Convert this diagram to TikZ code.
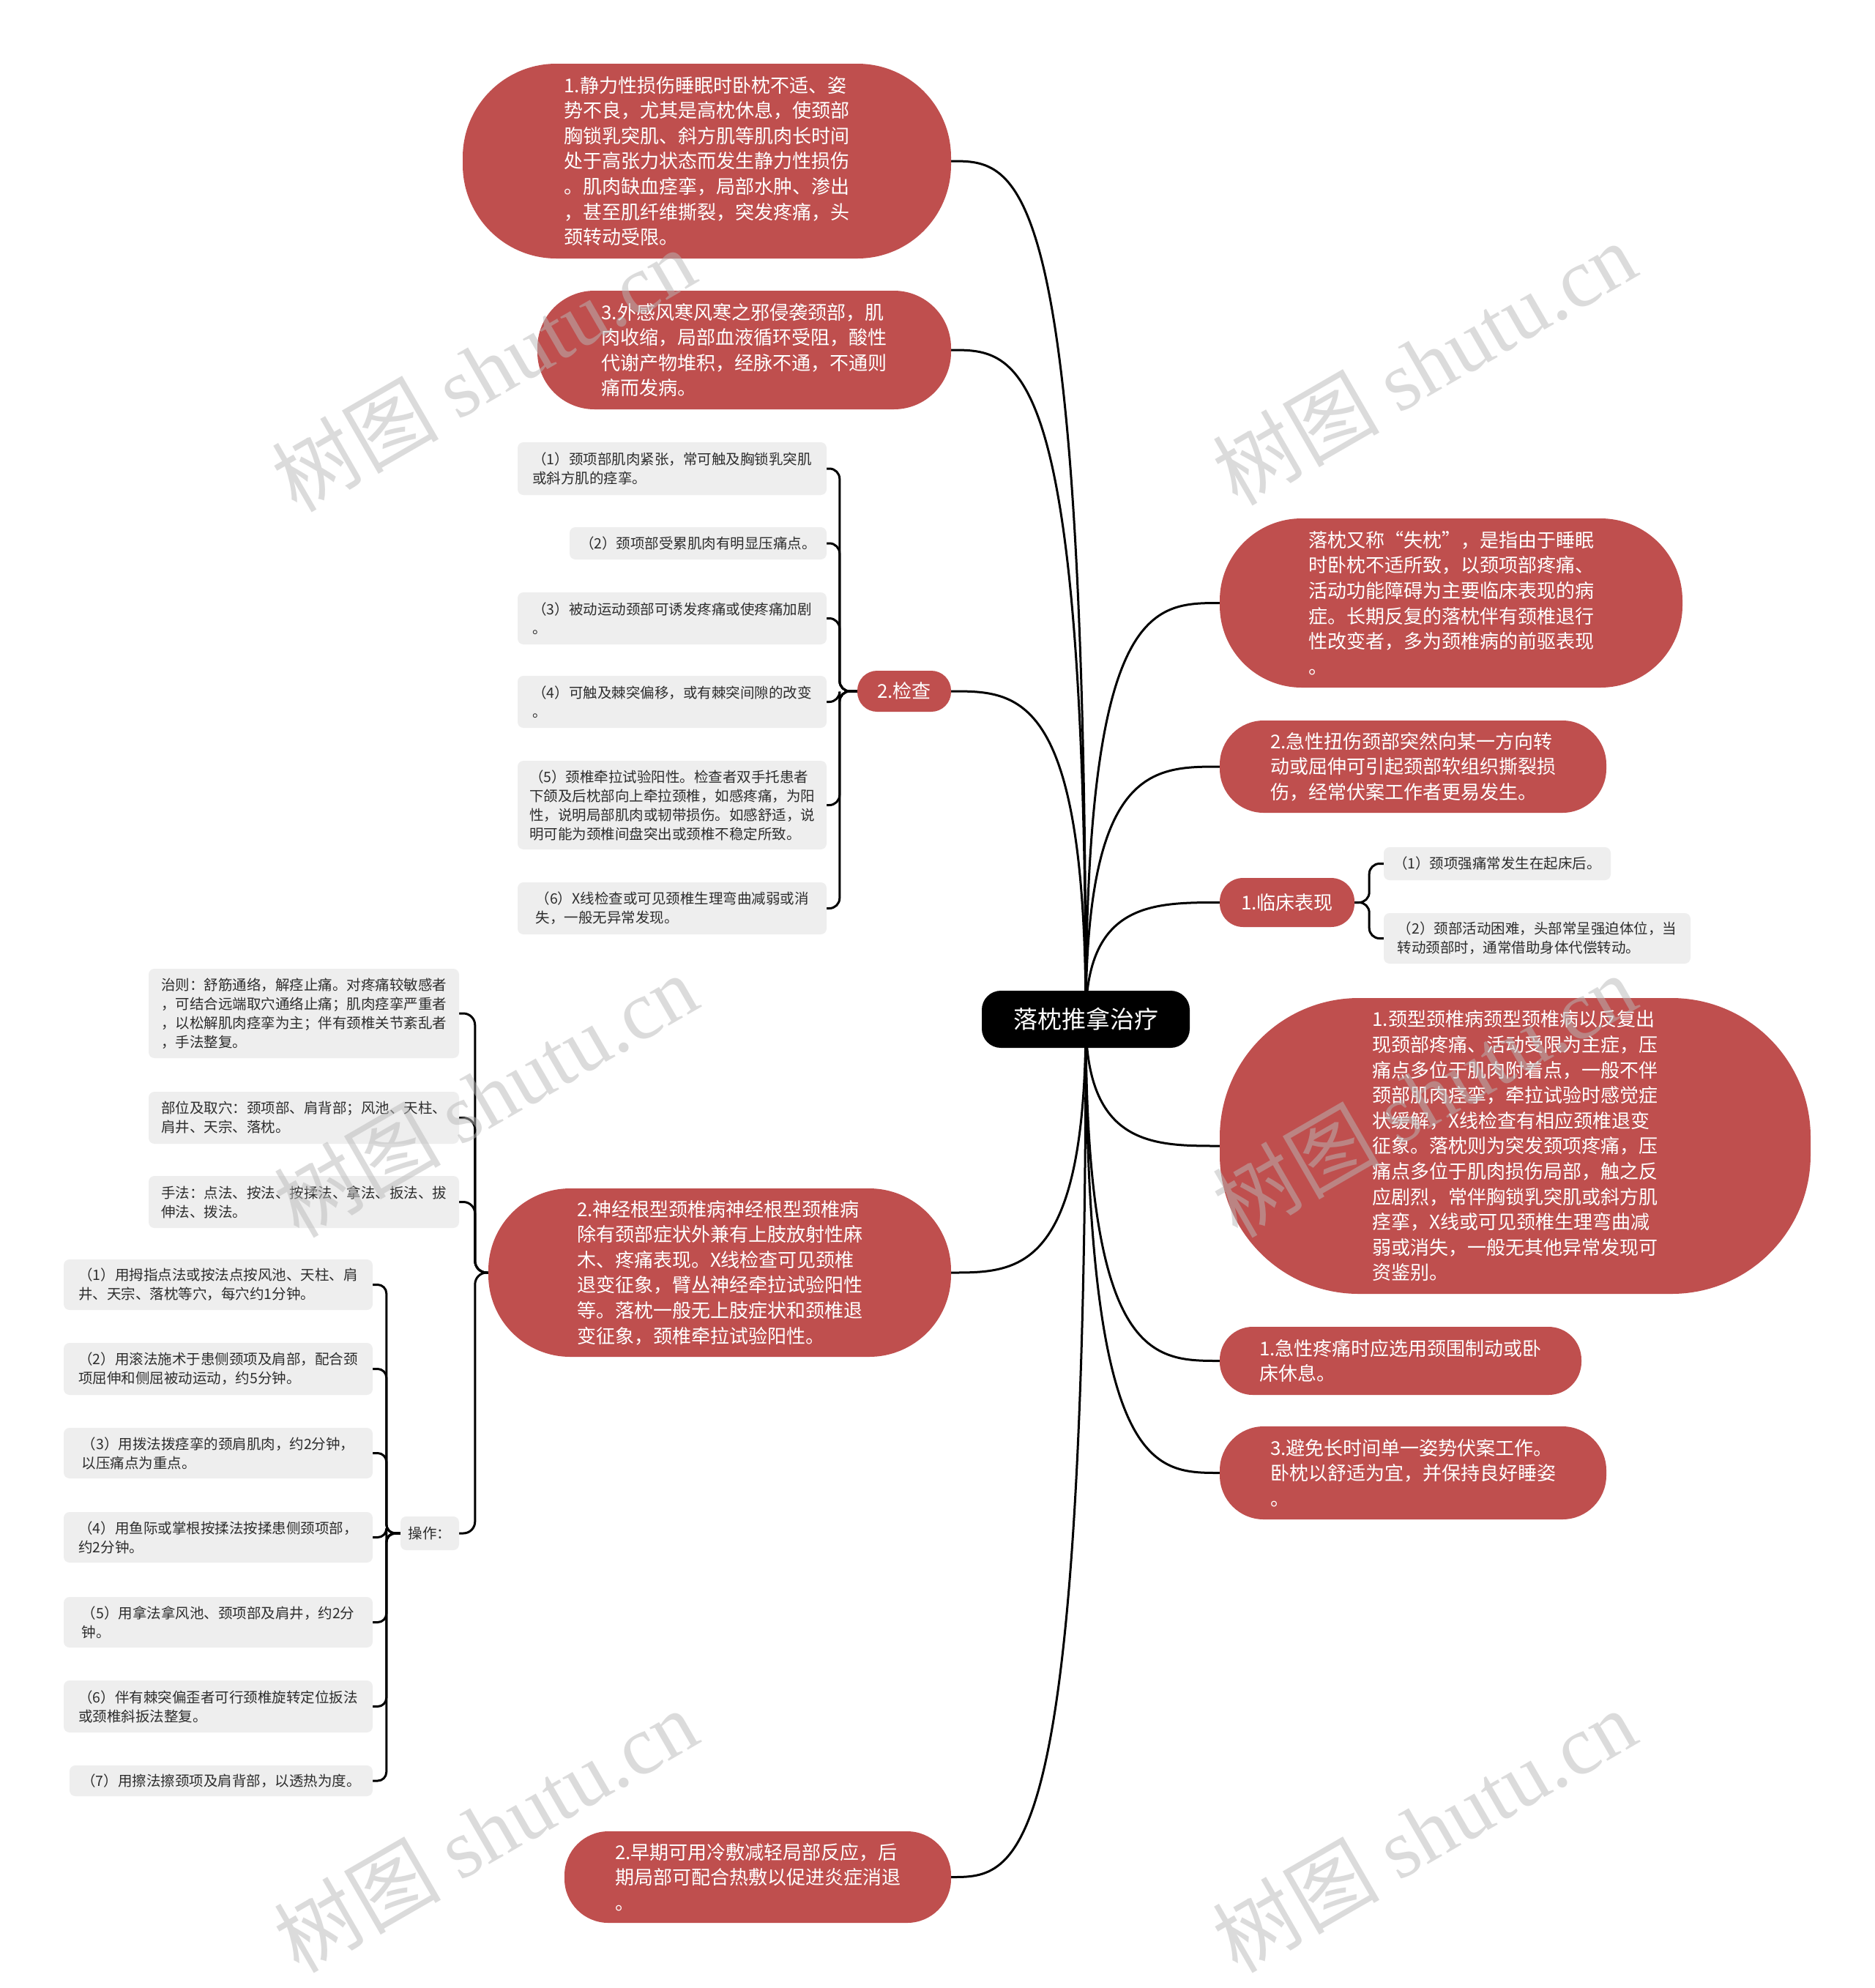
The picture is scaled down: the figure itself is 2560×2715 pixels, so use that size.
\documentclass[tikz,border=0pt]{standalone}
\usepackage{fontspec}
\setmainfont{Noto Sans CJK SC}
\newfontfamily\wmlatin{Liberation Serif}
\usetikzlibrary{calc,backgrounds}
\definecolor{nodered}{RGB}{191,79,78}
\definecolor{graybox}{RGB}{238,238,238}
\definecolor{graytext}{RGB}{45,45,45}
\definecolor{wmgray}{RGB}{185,185,185}
\tikzset{
  rednode/.style={fill=nodered, text=white, align=left, inner sep=0pt, font=\fontsize{26}{34.6}\selectfont},
  graynode/.style={fill=graybox, text=graytext, align=left, rounded corners=8pt, inner sep=0pt, font=\fontsize{19.5}{26}\selectfont},
  rootnode/.style={fill=black, text=white, rounded corners=26pt, inner sep=0pt, font=\fontsize{33}{40}\selectfont},
  conn/.style={draw=black, line width=3pt},
  brace/.style={draw=black, line width=3pt},
  wm/.style={text=wmgray, text opacity=0.5, rotate=30, inner sep=0pt, font=\fontsize{114}{120}\selectfont}
}
\newcommand\mconn[2]{\draw[conn] (#1) .. controls (#1 |- #2) and ($(#1 |- #2)!0.5!(#2)$) .. (#2);}
\newcommand\bconn[4]{\draw[brace, rounded corners=#4] (#1) -- ++(#3,0) |- (#2);}
\begin{document}
\begin{tikzpicture}[x=1pt,y=-1pt]
\useasboundingbox (0,0) rectangle (2560,2715);

% root
\node[rootnode, minimum width=284pt, minimum height=78pt] (root) at (1483,1392) {落枕推拿治疗};

% left red nodes
\node[rednode, minimum width=667pt, minimum height=266pt, rounded corners=128pt] (L1) at (965.5,220) {1.静力性损伤睡眠时卧枕不适、姿\\势不良，尤其是高枕休息，使颈部\\胸锁乳突肌、斜方肌等肌肉长时间\\处于高张力状态而发生静力性损伤\\。肌肉缺血痉挛，局部水肿、渗出\\，甚至肌纤维撕裂，突发疼痛，头\\颈转动受限。};
\node[rednode, minimum width=565pt, minimum height=162pt, rounded corners=78pt] (L2) at (1016.5,478) {3.外感风寒风寒之邪侵袭颈部，肌\\肉收缩，局部血液循环受阻，酸性\\代谢产物堆积，经脉不通，不通则\\痛而发病。};
\node[rednode, minimum width=128pt, minimum height=56pt, rounded corners=27pt] (L3) at (1235,944) {2.检查};
\node[rednode, minimum width=632pt, minimum height=230pt, rounded corners=112pt] (L4) at (983,1738) {2.神经根型颈椎病神经根型颈椎病\\除有颈部症状外兼有上肢放射性麻\\木、疼痛表现。X线检查可见颈椎\\退变征象，臂丛神经牵拉试验阳性\\等。落枕一般无上肢症状和颈椎退\\变征象，颈椎牵拉试验阳性。};
\node[rednode, minimum width=528pt, minimum height=125pt, rounded corners=60pt] (L5) at (1035,2563.5) {2.早期可用冷敷减轻局部反应，后\\期局部可配合热敷以促进炎症消退\\。};

% right red nodes
\node[rednode, minimum width=632pt, minimum height=231pt, rounded corners=112pt] (R1) at (1982,823.5) {落枕又称“失枕”，是指由于睡眠\\时卧枕不适所致，以颈项部疼痛、\\活动功能障碍为主要临床表现的病\\症。长期反复的落枕伴有颈椎退行\\性改变者，多为颈椎病的前驱表现\\。};
\node[rednode, minimum width=528pt, minimum height=126pt, rounded corners=60pt] (R2) at (1930,1047) {2.急性扭伤颈部突然向某一方向转\\动或屈伸可引起颈部软组织撕裂损\\伤，经常伏案工作者更易发生。};
\node[rednode, minimum width=184pt, minimum height=67pt, rounded corners=32pt] (R3) at (1758,1232.5) {1.临床表现};
\node[rednode, minimum width=807pt, minimum height=404pt, rounded corners=190pt] (R4) at (2069.5,1565) {1.颈型颈椎病颈型颈椎病以反复出\\现颈部疼痛、活动受限为主症，压\\痛点多位于肌肉附着点，一般不伴\\颈部肌肉痉挛，牵拉试验时感觉症\\状缓解，X线检查有相应颈椎退变\\征象。落枕则为突发颈项疼痛，压\\痛点多位于肌肉损伤局部，触之反\\应剧烈，常伴胸锁乳突肌或斜方肌\\痉挛，X线或可见颈椎生理弯曲减\\弱或消失，一般无其他异常发现可\\资鉴别。};
\node[rednode, minimum width=494pt, minimum height=93pt, rounded corners=45pt] (R5) at (1913,1858.5) {1.急性疼痛时应选用颈围制动或卧\\床休息。};
\node[rednode, minimum width=528pt, minimum height=127pt, rounded corners=60pt] (R6) at (1930,2011.5) {3.避免长时间单一姿势伏案工作。\\卧枕以舒适为宜，并保持良好睡姿\\。};

% children of 2.检查
\node[graynode, minimum width=422pt, minimum height=72pt] (c1) at (918,640) {（1）颈项部肌肉紧张，常可触及胸锁乳突肌\\或斜方肌的痉挛。};
\node[graynode, minimum width=351pt, minimum height=44pt] (c2) at (953.5,742) {（2）颈项部受累肌肉有明显压痛点。};
\node[graynode, minimum width=422pt, minimum height=71pt] (c3) at (918,844.5) {（3）被动运动颈部可诱发疼痛或使疼痛加剧\\。};
\node[graynode, minimum width=422pt, minimum height=71pt] (c4) at (918,958.5) {（4）可触及棘突偏移，或有棘突间隙的改变\\。};
\node[graynode, minimum width=422pt, minimum height=121pt] (c5) at (918,1099.5) {（5）颈椎牵拉试验阳性。检查者双手托患者\\下颌及后枕部向上牵拉颈椎，如感疼痛，为阳\\性，说明局部肌肉或韧带损伤。如感舒适，说\\明可能为颈椎间盘突出或颈椎不稳定所致。};
\node[graynode, minimum width=422pt, minimum height=71pt] (c6) at (918,1240.5) {（6）X线检查或可见颈椎生理弯曲减弱或消\\失，一般无异常发现。};

% children of 2.神经根型
\node[graynode, minimum width=424pt, minimum height=122pt] (d1) at (415,1384) {治则：舒筋通络，解痉止痛。对疼痛较敏感者\\，可结合远端取穴通络止痛；肌肉痉挛严重者\\，以松解肌肉痉挛为主；伴有颈椎关节紊乱者\\，手法整复。};
\node[graynode, minimum width=424pt, minimum height=71pt] (d2) at (415,1526.5) {部位及取穴：颈项部、肩背部；风池、天柱、\\肩井、天宗、落枕。};
\node[graynode, minimum width=424pt, minimum height=71pt] (d3) at (415,1641.5) {手法：点法、按法、按揉法、拿法、扳法、拔\\伸法、拨法。};
\node[graynode, minimum width=80pt, minimum height=46pt] (d4) at (587,2094) {操作：};

% children of 操作
\node[graynode, minimum width=422pt, minimum height=69pt] (e1) at (298,1754.5) {（1）用拇指点法或按法点按风池、天柱、肩\\井、天宗、落枕等穴，每穴约1分钟。};
\node[graynode, minimum width=422pt, minimum height=71pt] (e2) at (298,1869.5) {（2）用滚法施术于患侧颈项及肩部，配合颈\\项屈伸和侧屈被动运动，约5分钟。};
\node[graynode, minimum width=422pt, minimum height=69pt] (e3) at (298,1984.5) {（3）用拨法拨痉挛的颈肩肌肉，约2分钟，\\以压痛点为重点。};
\node[graynode, minimum width=422pt, minimum height=69pt] (e4) at (298,2099.5) {（4）用鱼际或掌根按揉法按揉患侧颈项部，\\约2分钟。};
\node[graynode, minimum width=422pt, minimum height=69pt] (e5) at (298,2215.5) {（5）用拿法拿风池、颈项部及肩井，约2分\\钟。};
\node[graynode, minimum width=422pt, minimum height=71pt] (e6) at (298,2330.5) {（6）伴有棘突偏歪者可行颈椎旋转定位扳法\\或颈椎斜扳法整复。};
\node[graynode, minimum width=414pt, minimum height=42pt] (e7) at (302,2432) {（7）用擦法擦颈项及肩背部，以透热为度。};

% children of 1.临床表现
\node[graynode, minimum width=310pt, minimum height=45pt] (f1) at (2045,1179.5) {（1）颈项强痛常发生在起床后。};
\node[graynode, minimum width=419pt, minimum height=69pt] (f2) at (2099.5,1281.5) {（2）颈部活动困难，头部常呈强迫体位，当\\转动颈部时，通常借助身体代偿转动。};

\begin{scope}[on background layer]
  \fill[white] (0,0) rectangle (2560,2715);
  \mconn{root.center}{L1.east}
  \mconn{root.center}{L2.east}
  \mconn{root.center}{L3.east}
  \mconn{root.center}{L4.east}
  \mconn{root.center}{L5.east}
  \mconn{root.center}{R1.west}
  \mconn{root.center}{R2.west}
  \mconn{root.center}{R3.west}
  \mconn{root.center}{R4.west}
  \mconn{root.center}{R5.west}
  \mconn{root.center}{R6.west}
  \foreach \c in {c1,c2,c3,c4,c5,c6} {\bconn{L3.west}{\c.east}{-24}{14pt}}
  \foreach \c in {d1,d2,d3,d4} {\bconn{L4.west}{\c.east}{-18}{16pt}}
  \foreach \c in {e1,e2,e3,e4,e5,e6,e7} {\bconn{d4.west}{\c.east}{-19}{12pt}}
  \foreach \c in {f1,f2} {\bconn{R3.east}{\c.west}{20}{14pt}}
\end{scope}

% watermarks
\node[wm] (w1) at (660,505) {树图 {\wmlatin shutu.cn}};
\node[wm] (w2) at (1945,496) {树图 {\wmlatin shutu.cn}};
\node[wm] (w3) at (663,1496) {树图 {\wmlatin shutu.cn}};
\node[wm] (w4) at (1945,1496) {树图 {\wmlatin shutu.cn}};
\node[wm] (w5) at (663,2500) {树图 {\wmlatin shutu.cn}};
\node[wm] (w6) at (1945,2500) {树图 {\wmlatin shutu.cn}};
\end{tikzpicture}
\end{document}
